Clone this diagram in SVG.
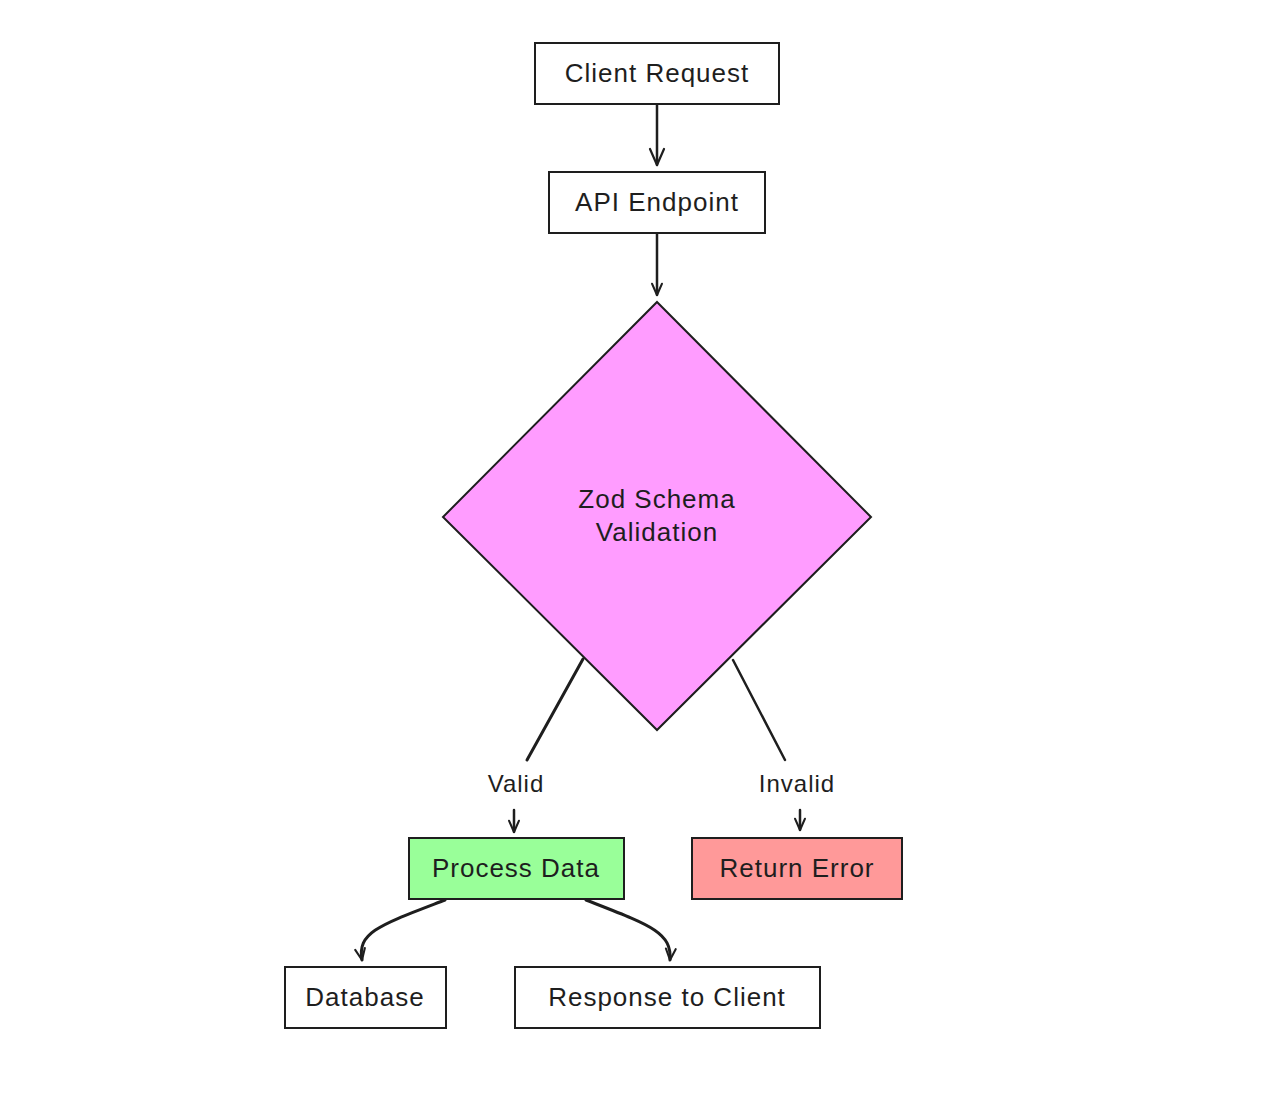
<svg xmlns="http://www.w3.org/2000/svg" width="1280" height="1099" viewBox="0 0 1280 1099">
<defs>
<style>
.box{stroke:#1e1e1e;stroke-width:2;}
.lbl{font-family:"Liberation Sans",Arial,sans-serif;font-size:26px;letter-spacing:1px;fill:#1e1e1e;text-anchor:middle;dominant-baseline:central;}
.edge{fill:none;stroke:#1e1e1e;stroke-width:2.5;stroke-linecap:round;}
.thick{stroke-width:3;}
.elbl{font-family:"Liberation Sans",Arial,sans-serif;font-size:24px;letter-spacing:1px;fill:#1e1e1e;text-anchor:middle;dominant-baseline:central;}
</style>
<marker id="ah" viewBox="0 0 20 20" refX="18" refY="10" markerWidth="20" markerHeight="20" markerUnits="userSpaceOnUse" orient="auto">
<path d="M2,3 L18,10 L2,17" fill="none" stroke="#1e1e1e" stroke-width="2.2" stroke-linecap="round" stroke-linejoin="round"/>
</marker>
<marker id="ahs" viewBox="0 0 20 20" refX="18" refY="10" markerWidth="14" markerHeight="14" markerUnits="userSpaceOnUse" orient="auto">
<path d="M2,3 L18,10 L2,17" fill="none" stroke="#1e1e1e" stroke-width="3" stroke-linecap="round" stroke-linejoin="round"/>
</marker>
</defs>
<rect width="1280" height="1099" fill="#ffffff"/>
<g id="edges">
<path class="edge" d="M657,105 L657,165" marker-end="url(#ah)"/>
<path class="edge" d="M657,234 L657,295" marker-end="url(#ahs)"/>
<path class="edge thick" d="M583,659 L527,760"/>
<path class="edge" d="M514,810 L514,832" marker-end="url(#ahs)"/>
<path class="edge" d="M733,660 L785,760"/>
<path class="edge" d="M800,810 L800,830" marker-end="url(#ahs)"/>
<path class="edge thick" d="M445,900 C380,925 357,932 362,960" marker-end="url(#ahs)"/>
<path class="edge thick" d="M586,900 C650,925 672,932 670,960" marker-end="url(#ahs)"/>
<text class="elbl" x="516" y="783">Valid</text>
<text class="elbl" x="797" y="783">Invalid</text>
</g>
<g id="client-request">
<rect class="box" x="535" y="43" width="244" height="61" fill="#ffffff"/>
<text class="lbl" x="657" y="73">Client Request</text>
</g>
<g id="api-endpoint">
<rect class="box" x="549" y="172" width="216" height="61" fill="#ffffff"/>
<text class="lbl" x="657" y="202">API Endpoint</text>
</g>
<g id="zod-validation">
<polygon class="box" points="657,302 871,517 657,730 443,517" fill="#ff9cff"/>
<text class="lbl" x="657" y="499">Zod Schema</text>
<text class="lbl" x="657" y="532">Validation</text>
</g>
<g id="process-data">
<rect class="box" x="409" y="838" width="215" height="61" fill="#99ff99"/>
<text class="lbl" x="516" y="868">Process Data</text>
</g>
<g id="return-error">
<rect class="box" x="692" y="838" width="210" height="61" fill="#ff9999"/>
<text class="lbl" x="797" y="868">Return Error</text>
</g>
<g id="database">
<rect class="box" x="285" y="967" width="161" height="61" fill="#ffffff"/>
<text class="lbl" x="365" y="997">Database</text>
</g>
<g id="response-to-client">
<rect class="box" x="515" y="967" width="305" height="61" fill="#ffffff"/>
<text class="lbl" x="667" y="997">Response to Client</text>
</g>
</svg>
